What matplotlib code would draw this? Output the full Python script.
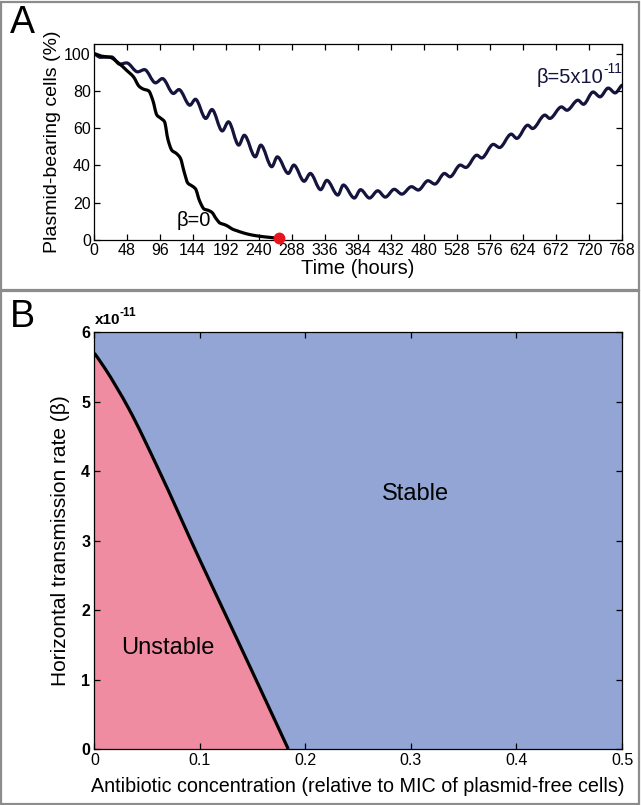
import numpy as np
import matplotlib
matplotlib.use("Agg")
import matplotlib.pyplot as plt
from matplotlib.path import Path
from matplotlib.patches import PathPatch, Rectangle

plt.rcParams['font.family'] = ['Liberation Sans', 'DejaVu Sans']

# ---------------- Data: panel A ----------------
time_ticks = list(range(0, 769, 48))
pct_ticks = [0, 20, 40, 60, 80, 100]

# beta = 0
t_b0 = [0, 12, 24, 36, 48, 58, 66, 72, 80, 86, 92, 98, 103, 108, 114, 120, 126,
        132, 137, 143, 148, 154, 161, 166, 172, 178, 184, 190, 196, 202, 208,
        216, 226, 236, 246, 256, 268]
v_b0 = [100, 98.6, 98, 95, 91, 87.5, 82.5, 81, 80, 75, 67, 65.2, 63.5, 54, 48,
        46.5, 44, 36, 30.5, 29, 27.5, 21, 16.5, 16, 14.8, 11.5, 9, 8.3, 7.2,
        5.8, 5, 4, 3, 2.3, 1.8, 1.4, 1.0]

# beta = 5e-11 (turning points)
t_b5 = [0, 10, 26, 38, 48, 64, 74, 90, 100, 116, 124, 140, 148, 163, 172, 187,
        196, 211, 219, 235, 243, 259, 267, 283, 291, 306, 315, 330, 339, 355,
        363, 379, 388, 401, 413, 424, 437, 448, 462, 472, 486, 496, 510, 518,
        533, 541, 557, 564, 581, 590, 607, 615, 631, 638, 656, 663, 680, 688,
        704, 712, 726, 736, 748, 758, 768]
v_b5 = [100, 98, 98.2, 94.3, 95, 90.2, 91.4, 84.3, 86.6, 78.6, 80.7, 72.3, 75.5,
        65.2, 70, 58.5, 63.4, 50.9, 56.2, 44.6, 50.9, 39.3, 44.6, 35.7, 40.2,
        31.5, 35.7, 27, 32, 24.1, 29.5, 22.5, 27, 22.5, 26.4, 23, 27.2, 24.6,
        28.6, 26.8, 31.8, 30, 35.7, 33.9, 40.2, 38.9, 45.5, 44, 51.3, 49.6,
        56.8, 54.5, 61.6, 59.8, 67, 65.2, 71.4, 69.6, 75, 72.8, 79.4, 76.8,
        81.5, 78.9, 83]

end_point = (269, 0.9)

# ---------------- Data: panel B ----------------
conc_ticks = [0, 0.1, 0.2, 0.3, 0.4, 0.5]
conc_labels = ['0', '0.1', '0.2', '0.3', '0.4', '0.5']
beta_ticks = [0, 1, 2, 3, 4, 5, 6]
boundary_conc = [0, 0.01, 0.0326, 0.06, 0.1, 0.13, 0.1623, 0.1837]
boundary_beta = [5.7, 5.48, 4.9, 4.05, 2.72, 1.75, 0.7, 0]   # x 1e-11


def pchip_path(x, y, monotone_ends=False):
    x = np.asarray(x, float)
    y = np.asarray(y, float)
    h = np.diff(x)
    d = np.diff(y) / h
    n = len(x)
    m = np.zeros(n)
    for i in range(1, n - 1):
        if d[i - 1] * d[i] <= 0:
            m[i] = 0.0
        else:
            w1 = 2 * h[i] + h[i - 1]
            w2 = h[i] + 2 * h[i - 1]
            m[i] = (w1 + w2) / (w1 / d[i - 1] + w2 / d[i])
    if monotone_ends:
        m[0] = d[0]
        m[-1] = d[-1]
    else:
        m[0] = d[0] * 0.5
        m[-1] = d[-1] * 0.5
    verts = [(x[0], y[0])]
    codes = [Path.MOVETO]
    for i in range(n - 1):
        hh = h[i]
        verts += [(x[i] + hh / 3, y[i] + m[i] * hh / 3),
                  (x[i + 1] - hh / 3, y[i + 1] - m[i + 1] * hh / 3),
                  (x[i + 1], y[i + 1])]
        codes += [Path.CURVE4] * 3
    return verts, codes


W, H = 641, 805
fig = plt.figure(figsize=(W / 100, H / 100), dpi=100)

# panel borders
border_col = '#8c8c8c'
fig.patches.append(Rectangle((1 / W, 1 - 290 / H), 638 / W, 288 / H,
                             transform=fig.transFigure, fill=False,
                             edgecolor=border_col, lw=1.6))
fig.patches.append(Rectangle((1 / W, 1 / H), 638 / W, (H - 292) / H,
                             transform=fig.transFigure, fill=False,
                             edgecolor=border_col, lw=1.6))

# ---------------- Panel A ----------------
axA = fig.add_axes([93.6 / W, 1 - 240 / H, (622 - 93.6) / W, (240 - 43.7) / H])
axA.set_xlim(0, 768)
axA.set_ylim(0, 105.3)
navy = '#14143c'
v5, c5 = pchip_path(t_b5, v_b5)
axA.add_patch(PathPatch(Path(v5, c5), fill=False, edgecolor=navy,
                        lw=2.3, capstyle='round', joinstyle='round'))
v0, c0 = pchip_path(t_b0, v_b0)
axA.add_patch(PathPatch(Path(v0, c0), fill=False, edgecolor='black',
                        lw=2.3, capstyle='round', joinstyle='round'))
axA.plot([end_point[0]], [end_point[1]], 'o', color='#e8141c', ms=7.5,
         clip_on=False, zorder=5)
axA.set_xticks(time_ticks)
axA.set_yticks(pct_ticks)
axA.tick_params(direction='in', top=True, right=True, length=4, width=0.9,
                labelsize=11.5, pad=2)
axA.set_xlabel('Time (hours)', fontsize=14.5, labelpad=1)
axA.set_ylabel('Plasmid-bearing cells (%)', fontsize=14, labelpad=2)
axA.text(121, 7.5, 'β=0', fontsize=14.5, ha='left', va='baseline')
tb = axA.text(644, 84, 'β=5x10', fontsize=14.5, ha='left', va='baseline',
              color=navy)
axA.annotate('-11', xy=(1, 0.62), xycoords=tb, fontsize=10, color=navy,
             ha='left', va='bottom')
for s in axA.spines.values():
    s.set_linewidth(0.9)

# ---------------- Panel B ----------------
axB = fig.add_axes([94.4 / W, 1 - 749 / H, (622 - 94.4) / W, (749 - 332.3) / H])
axB.set_xlim(0, 0.5)
axB.set_ylim(0, 6)
pink = '#f08ca2'
blue = '#92a5d5'
axB.fill_between([0, 0.5], 0, 6, color=blue, lw=0, zorder=0)
vb, cb = pchip_path(boundary_conc, boundary_beta, monotone_ends=True)
fill_verts = vb + [(0, 0), (0, 0)]
fill_codes = cb + [Path.LINETO, Path.CLOSEPOLY]
axB.add_patch(PathPatch(Path(fill_verts, fill_codes), facecolor=pink,
                        edgecolor='none', lw=0, zorder=1))
axB.add_patch(PathPatch(Path(vb, cb), fill=False, edgecolor='black', lw=2.3,
                        zorder=2, capstyle='butt'))
axB.set_xticks(conc_ticks)
axB.set_xticklabels(conc_labels)
axB.set_yticks(beta_ticks)
axB.tick_params(direction='in', top=True, right=True, length=4, width=0.9,
                labelsize=11.5, pad=3)
for lab in axB.get_yticklabels():
    lab.set_fontweight('bold')
tx = axB.text(0, 1.012, 'x10', transform=axB.transAxes, fontsize=11,
              ha='left', va='bottom', fontweight='bold')
axB.annotate('-11', xy=(1, 0.6), xycoords=tx, fontsize=8.5, fontweight='bold',
             ha='left', va='bottom')
axB.set_xlabel('Antibiotic concentration (relative to MIC of plasmid-free cells)',
               fontsize=14.2, labelpad=6)
axB.set_ylabel('Horizontal transmission rate (β)', fontsize=15, labelpad=8)
axB.text(0.304, 3.67, 'Stable', fontsize=17, ha='center', va='center')
axB.text(0.07, 1.45, 'Unstable', fontsize=17, ha='center', va='center')
for s in axB.spines.values():
    s.set_linewidth(0.9)
    s.set_zorder(3)

# panel letters
fig.text(10 / W, 1 - 33 / H, 'A', fontsize=27, ha='left', va='baseline')
fig.text(10 / W, 1 - 327 / H, 'B', fontsize=27, ha='left', va='baseline')

fig.savefig('out.png', dpi=100)
